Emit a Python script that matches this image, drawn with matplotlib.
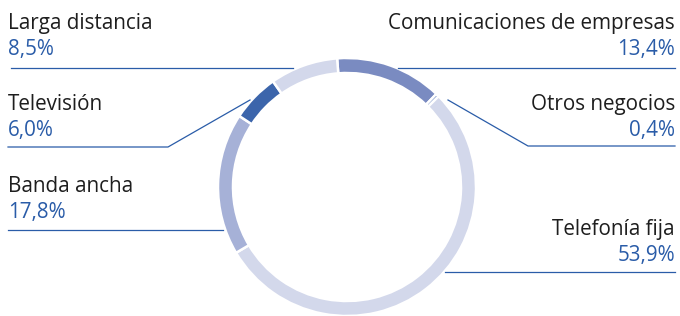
import matplotlib.pyplot as plt

# shares of revenue, clockwise from the top
labels = ['Comunicaciones de empresas', 'Otros negocios', 'Telefonía fija',
          'Banda ancha', 'Televisión', 'Larga distancia']
values = [13.4, 0.4, 53.9, 17.8, 6.0, 8.5]
value_text = ['13,4%', '0,4%', '53,9%', '17,8%', '6,0%', '8,5%']
colors = ['#7a8bc1', '#4f70b4', '#d3d8eb', '#a6b1d7', '#3c65ab', '#d3d8eb']

W, H = 680, 316
text_col = '#1e1e1e'
blue = '#2a5ca8'
line_col = '#2a5ca8'

plt.rcParams['font.family'] = ['Open Sans', 'DejaVu Sans']

fig = plt.figure(figsize=(W/100, H/100), dpi=100)
ax = fig.add_axes([0, 0, 1, 1])

def Y(y):
  # pixel row (from top) -> data y
  return H - y

cx, cy, r = 347, 187, 129
ax.pie(values, colors=colors, startangle=94.4, counterclock=False,
       center=(cx, Y(cy)), radius=r,
       wedgeprops=dict(width=15, edgecolor='white', linewidth=1.8))

# label blocks: (name index, x, side, name baseline)
blocks = [(5, 8, 'left', 29), (4, 8, 'left', 110), (3, 8, 'left', 192),
          (0, 675, 'right', 29), (1, 675, 'right', 110), (2, 675, 'right', 235)]
for i, x, side, yb in blocks:
  ax.text(x, Y(yb), labels[i], ha=side, va='baseline', fontsize=14.9, color=text_col)
  ax.text(x, Y(yb + 26), value_text[i], ha=side, va='baseline', fontsize=14.9, color=blue)

# leader lines
leaders = [
  [(11, 68), (293, 68)],
  [(8, 147), (168, 147), (250, 100)],
  [(8, 230), (223, 230)],
  [(398, 68), (675, 68)],
  [(448, 100), (528, 146), (675, 146)],
  [(445, 272), (675, 272)],
]
for pts in leaders:
  ax.plot([p[0] for p in pts], [Y(p[1]) for p in pts], color=line_col, lw=0.9)

ax.set_xlim(0, W)
ax.set_ylim(0, H)
ax.set_aspect('equal')
ax.axis('off')

fig.savefig('out.png', dpi=100)
